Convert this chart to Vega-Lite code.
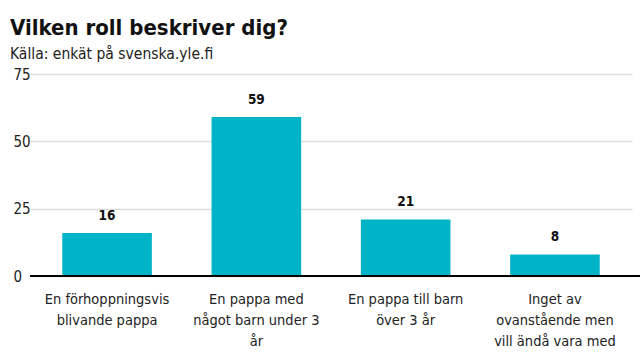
{
  "$schema": "https://vega.github.io/schema/vega-lite/v6.json",
  "width": 610,
  "height": 202,
  "autosize": {"type": "none"},
  "padding": {"left": 30, "top": 74, "right": 0, "bottom": 84},
  "background": "white",
  "title": {
    "text": "Vilken roll beskriver dig?",
    "subtitle": "Källa: enkät på svenska.yle.fi",
    "anchor": "start",
    "frame": "group",
    "dx": -20,
    "offset": 4,
    "font": "DejaVu Sans Condensed, sans-serif",
    "fontSize": 22,
    "fontWeight": "bold",
    "color": "#111111",
    "subtitleFont": "DejaVu Sans Condensed, sans-serif",
    "subtitleFontSize": 15.5,
    "subtitleColor": "#222222",
    "subtitlePadding": 7
  },
  "config": {
    "view": {"stroke": null},
    "font": "DejaVu Sans Condensed, sans-serif"
  },
  "data": {
    "values": [
      {"roll": "En förhoppningsvis blivande pappa", "antal": 16},
      {"roll": "En pappa med något barn under 3 år", "antal": 59},
      {"roll": "En pappa till barn över 3 år", "antal": 21},
      {"roll": "Inget av ovanstående men vill ändå vara med", "antal": 8}
    ]
  },
  "encoding": {
    "x": {
      "field": "roll",
      "type": "nominal",
      "sort": null,
      "scale": {"paddingInner": 0.4, "paddingOuter": 0.216, "range": [0, 602]},
      "axis": {
        "title": null,
        "labelAngle": 0,
        "ticks": false,
        "domain": false,
        "labelPadding": 16,
        "labelFontSize": 14.5,
        "labelColor": "#222222",
        "labelLineHeight": 21,
        "labelLimit": 200,
        "labelExpr": "datum.value == 'En förhoppningsvis blivande pappa' ? ['En förhoppningsvis', 'blivande pappa'] : datum.value == 'En pappa med något barn under 3 år' ? ['En pappa med', 'något barn under 3', 'år'] : datum.value == 'En pappa till barn över 3 år' ? ['En pappa till barn', 'över 3 år'] : ['Inget av', 'ovanstående men', 'vill ändå vara med']"
      }
    },
    "y": {
      "field": "antal",
      "type": "quantitative",
      "scale": {"domain": [0, 75], "nice": false},
      "axis": {
        "title": null,
        "values": [0, 25, 50, 75],
        "domain": false,
        "ticks": false,
        "grid": true,
        "gridColor": "#dddddd",
        "gridWidth": 1.5,
        "labelAlign": "left",
        "labelPadding": 17,
        "labelFontSize": 15,
        "labelColor": "#222222"
      }
    }
  },
  "layer": [
    {"mark": {"type": "bar", "color": "#00b3c7"}},
    {
      "data": {"values": [{"zero": 0}]},
      "mark": {"type": "rule", "color": "#000000", "strokeWidth": 2},
      "encoding": {"x": null, "y": {"field": "zero", "type": "quantitative"}}
    },
    {
      "mark": {"type": "text", "dy": -10, "baseline": "bottom", "fontSize": 13.5, "fontWeight": "bold", "color": "#111111"},
      "encoding": {"text": {"field": "antal", "type": "quantitative"}}
    }
  ]
}
